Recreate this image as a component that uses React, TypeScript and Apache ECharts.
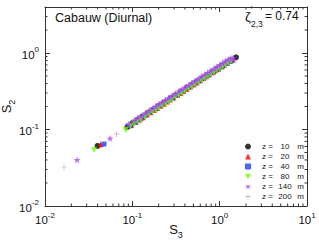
import React, { useEffect, useRef } from 'react';
import * as echarts from 'echarts';

// ---- data (S3, S2) ----
const heights = ['10', '20', '40', '80', '140', '200'];

const s10m = [
  [0.040, 0.061], [0.088, 0.108], [0.10, 0.121], [0.115, 0.134], [0.13, 0.148], [0.15, 0.164],
  [0.17, 0.180], [0.20, 0.203], [0.23, 0.224], [0.27, 0.252], [0.31, 0.279], [0.36, 0.312],
  [0.42, 0.350], [0.48, 0.385], [0.55, 0.424], [0.63, 0.468], [0.72, 0.515], [0.82, 0.565],
  [0.93, 0.618], [1.05, 0.675], [1.18, 0.736], [1.32, 0.797], [1.54, 0.879],
];
const s20m = [
  [0.0435, 0.064], [0.097, 0.115], [0.11, 0.126], [0.12, 0.135], [0.132, 0.145], [0.147, 0.157],
  [0.162, 0.168], [0.177, 0.180], [0.192, 0.191], [0.21, 0.204], [0.23, 0.218], [0.25, 0.232],
  [0.27, 0.246], [0.295, 0.262], [0.325, 0.282], [0.355, 0.301], [0.385, 0.319], [0.42, 0.340],
  [0.46, 0.364], [0.50, 0.388], [0.545, 0.413], [0.595, 0.441], [0.645, 0.468], [0.70, 0.497],
  [0.76, 0.528], [0.825, 0.561], [0.895, 0.596], [0.965, 0.630], [1.04, 0.666], [1.12, 0.704],
  [1.20, 0.740], [1.30, 0.786], [1.42, 0.825],
];
const s40m = [
  [0.0474, 0.0646], [0.095, 0.112], [0.108, 0.124], [0.125, 0.139], [0.14, 0.152], [0.16, 0.168],
  [0.185, 0.187], [0.215, 0.210], [0.25, 0.234], [0.29, 0.261], [0.33, 0.286], [0.38, 0.318],
  [0.44, 0.355], [0.51, 0.395], [0.58, 0.433], [0.66, 0.474], [0.75, 0.519], [0.85, 0.567],
  [0.96, 0.618], [1.08, 0.673], [1.22, 0.734], [1.36, 0.792],
];
const s80m = [
  [0.0364, 0.054], [0.084, 0.0985], [0.095, 0.110], [0.105, 0.118], [0.115, 0.127], [0.125, 0.135],
  [0.14, 0.146], [0.155, 0.158], [0.17, 0.169], [0.185, 0.180], [0.20, 0.191], [0.22, 0.204],
  [0.24, 0.218], [0.26, 0.231], [0.28, 0.244], [0.31, 0.264], [0.34, 0.282], [0.37, 0.300],
  [0.40, 0.318], [0.44, 0.342], [0.48, 0.364], [0.52, 0.386], [0.57, 0.414], [0.62, 0.440],
  [0.67, 0.466], [0.73, 0.496], [0.79, 0.526], [0.86, 0.561], [0.93, 0.594], [1.00, 0.627],
  [1.08, 0.664], [1.16, 0.700], [1.25, 0.740], [1.35, 0.783],
];
const s140m = [
  [0.0233, 0.040], [0.0556, 0.0767], [0.09, 0.118], [0.105, 0.132], [0.115, 0.141], [0.125, 0.150],
  [0.14, 0.163], [0.155, 0.176], [0.17, 0.189], [0.185, 0.201], [0.20, 0.213], [0.22, 0.228],
  [0.24, 0.243], [0.26, 0.258], [0.28, 0.273], [0.31, 0.294], [0.34, 0.315], [0.37, 0.336],
  [0.40, 0.356], [0.44, 0.381], [0.48, 0.407], [0.52, 0.432], [0.57, 0.462], [0.62, 0.492],
  [0.67, 0.521], [0.73, 0.555], [0.79, 0.588], [0.86, 0.626], [0.93, 0.664], [1.00, 0.700],
  [1.08, 0.741], [1.16, 0.782], [1.25, 0.826], [1.35, 0.855], [1.42, 0.86],
];
const s200m = [
  [0.0165, 0.032], [0.0663, 0.0874], [0.10, 0.123], [0.117, 0.139], [0.135, 0.156], [0.155, 0.174],
  [0.178, 0.193], [0.205, 0.215], [0.235, 0.238], [0.27, 0.264], [0.31, 0.292], [0.36, 0.326],
  [0.42, 0.365], [0.48, 0.402], [0.55, 0.443], [0.63, 0.488], [0.72, 0.536], [0.82, 0.587],
  [0.93, 0.641], [1.05, 0.697], [1.18, 0.755], [1.32, 0.815],
];

const seriesData = [s10m, s20m, s40m, s80m, s140m, s200m];

// axis limits and minor tick values
const X_MIN = 0.01;
const X_MAX = 10;
const Y_MIN = 0.01;
const Y_MAX = 4;
const xMinorTicks = [0.02, 0.03, 0.04, 0.05, 0.06, 0.07, 0.08, 0.09, 0.2, 0.3, 0.4, 0.5, 0.6, 0.7, 0.8, 0.9, 2, 3, 4, 5, 6, 7, 8, 9];
const yMinorTicks = [0.02, 0.03, 0.04, 0.05, 0.06, 0.07, 0.08, 0.09, 0.2, 0.3, 0.4, 0.5, 0.6, 0.7, 0.8, 0.9, 2, 3];

const titleText = 'Cabauw (Diurnal)';
const zetaValue = '0.74';

const FONT = '"Liberation Sans", Arial, Helvetica, sans-serif';
const AX = '#333';

const STAR = 'path://M10,0 L12.35,6.76 L19.51,6.91 L13.8,11.24 L15.88,18.09 L10,14 L4.12,18.09 L6.2,11.24 L0.49,6.91 L7.65,6.76 Z';
const PLUS = 'path://M4.6,0 H5.4 V4.6 H10 V5.4 H5.4 V10 H4.6 V5.4 H0 V4.6 H4.6 Z';
const DOWNTRI = 'path://M0,0 L10,0 L5,9 Z';

const symbols = ['circle', 'triangle', 'rect', DOWNTRI, STAR, PLUS];
const sizes = [6, 6, 5, 6, 7, 6];
const colors = ['#000000', '#ff0000', '#1f3cff', '#66ff00', '#b048ff', '#808080'];
const zOrder = [3, 4, 5, 6, 8, 7];

function powLabel(v: number) {
  const e = Math.log10(v);
  const r = Math.round(e);
  if (Math.abs(e - r) > 1e-6) return '';
  return `{b|10}{s|${r}}`;
}

const labelRich = {
  b: { fontSize: 11.5, fontFamily: FONT, color: '#111', lineHeight: 15, verticalAlign: 'bottom' },
  s: { fontSize: 8, fontFamily: FONT, color: '#111', lineHeight: 15, verticalAlign: 'top' },
};

const nameRich = {
  s: { fontSize: 13, fontFamily: FONT, color: '#111', lineHeight: 16, verticalAlign: 'top' },
  u: { fontSize: 9, fontFamily: FONT, color: '#111', lineHeight: 16, verticalAlign: 'bottom' },
};

export default function App() {
  const ref = useRef<HTMLDivElement>(null);
  useEffect(() => {
    if (!ref.current) return;
    const chart = echarts.init(ref.current, undefined, { renderer: 'svg' });

    const scatter = heights.map((h, i) => ({
      type: 'scatter',
      name: h,
      data: seriesData[i],
      symbol: symbols[i],
      symbolSize: sizes[i],
      itemStyle: { color: colors[i] },
      xAxisIndex: 0,
      yAxisIndex: 0,
      z: zOrder[i],
    }));

    const tickLine = (x1: number, y1: number, x2: number, y2: number) => ({
      type: 'line',
      shape: { x1, y1, x2, y2 },
      style: { stroke: AX, lineWidth: 1 },
    });

    const option: any = {
      animation: false,
      grid: { left: 45, right: 12, top: 7, bottom: 37, containLabel: false, outerBoundsMode: 'none' },
      xAxis: [
        {
          type: 'log', logBase: 10, min: X_MIN, max: X_MAX,
          position: 'bottom',
          axisLine: { show: true, lineStyle: { color: AX, width: 1 } },
          axisTick: { show: true, inside: true, length: 5, lineStyle: { color: AX } },
          axisLabel: { margin: 5, formatter: powLabel, rich: labelRich },
          splitLine: { show: false },
          name: '{s|S}{u|3}',
          nameLocation: 'middle',
          nameGap: 17,
          nameMoveOverlap: false,
          nameTextStyle: { rich: nameRich },
        },
        {
          type: 'log', logBase: 10, min: X_MIN, max: X_MAX,
          position: 'top',
          axisLine: { show: true, lineStyle: { color: AX, width: 1 } },
          axisTick: { show: true, inside: true, length: 5, lineStyle: { color: AX } },
          axisLabel: { show: false },
          splitLine: { show: false },
        },
      ],
      yAxis: [
        {
          type: 'log', logBase: 10, min: Y_MIN, max: Y_MAX,
          position: 'left',
          axisLine: { show: true, lineStyle: { color: AX, width: 1 } },
          axisTick: { show: true, inside: true, length: 5, lineStyle: { color: AX } },
          axisLabel: { margin: 6, formatter: powLabel, rich: labelRich },
          splitLine: { show: false },
          name: '{s|S}{u|2}',
          nameLocation: 'middle',
          nameGap: 29,
          nameRotate: 90,
          nameMoveOverlap: false,
          nameTextStyle: { rich: nameRich },
        },
        {
          type: 'log', logBase: 10, min: Y_MIN, max: Y_MAX,
          position: 'right',
          axisLine: { show: true, lineStyle: { color: AX, width: 1 } },
          axisTick: { show: true, inside: true, length: 5, lineStyle: { color: AX } },
          axisLabel: { show: false },
          splitLine: { show: false },
        },
      ],
      legend: {
        data: heights,
        orient: 'vertical',
        left: 245,
        top: 142,
        itemWidth: 6,
        itemHeight: 6,
        itemGap: 1,
        padding: 0,
        formatter: (name: string) => `{a|z =}{n|${name}}{m| m}`,
        textStyle: {
          fontSize: 8,
          fontFamily: FONT,
          color: '#111',
          lineHeight: 9,
          rich: {
            a: { fontSize: 8, fontFamily: FONT, color: '#111', width: 13, lineHeight: 9, padding: [0, 0, 0, 6] },
            n: { fontSize: 8, fontFamily: FONT, color: '#111', width: 20, align: 'right', lineHeight: 9 },
            m: { fontSize: 8, fontFamily: FONT, color: '#111', lineHeight: 9 },
          },
        },
      },
      graphic: [
        {
          type: 'text', left: 55, top: 11,
          style: { text: titleText, fontSize: 12.5, fontFamily: FONT, fill: '#111' },
        },
        {
          type: 'text', left: 245, top: 10,
          style: { text: 'ζ', fontSize: 13, fontFamily: FONT, fill: '#111' },
        },
        {
          type: 'text', left: 250, top: 4,
          style: { text: '*', fontSize: 8, fontFamily: FONT, fill: '#111' },
        },
        {
          type: 'text', left: 251, top: 19,
          style: { text: '2,3', fontSize: 8.5, fontFamily: FONT, fill: '#111' },
        },
        {
          type: 'text', left: 265, top: 10,
          style: { text: `= ${zetaValue}`, fontSize: 12, fontFamily: FONT, fill: '#111' },
        },
      ],
      series: [
        ...scatter,
        {
          type: 'custom',
          name: 'xminor',
          silent: true,
          clip: false,
          xAxisIndex: 0,
          yAxisIndex: 0,
          data: xMinorTicks.map((v) => [v, 1]),
          renderItem: (_p: any, api: any) => {
            const x = api.value(0);
            const b = api.coord([x, Y_MIN]);
            const t = api.coord([x, Y_MAX]);
            return {
              type: 'group',
              children: [tickLine(b[0], b[1], b[0], b[1] - 2.5), tickLine(t[0], t[1], t[0], t[1] + 2.5)],
            };
          },
        },
        {
          type: 'custom',
          name: 'yminor',
          silent: true,
          clip: false,
          xAxisIndex: 0,
          yAxisIndex: 0,
          data: yMinorTicks.map((v) => [1, v]),
          renderItem: (_p: any, api: any) => {
            const y = api.value(1);
            const l = api.coord([X_MIN, y]);
            const r = api.coord([X_MAX, y]);
            return {
              type: 'group',
              children: [tickLine(l[0], l[1], l[0] + 2.5, l[1]), tickLine(r[0], r[1], r[0] - 2.5, r[1])],
            };
          },
        },
      ],
    };

    chart.setOption(option);
    return () => chart.dispose();
  }, []);

  return <div ref={ref} style={{ width: 319, height: 243, position: 'absolute', left: 0, top: 0, background: '#fff' }} />;
}
